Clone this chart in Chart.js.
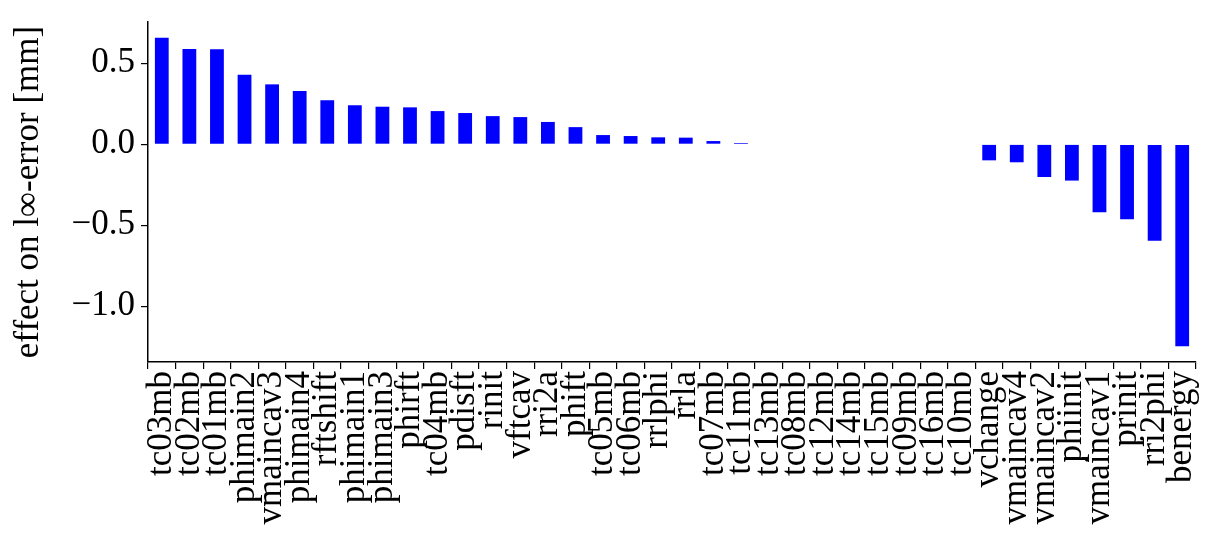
<!DOCTYPE html>
<html>
<head>
<meta charset="utf-8">
<script src="https://cdn.jsdelivr.net/npm/chart.js@4/dist/chart.umd.min.js"></script>
<style>
  html, body { margin: 0; padding: 0; background: #fff; }
  #wrap { width: 1218px; height: 551px; }
</style>
</head>
<body>
<div id="wrap"><canvas id="chart" width="1218" height="551"></canvas></div>
<script>
const labels = ['tc03mb','tc02mb','tc01mb','phimain2','vmaincav3','phimain4','rftshift','phimain1',
  'phimain3','phirft','tc04mb','pdisft','rinit','vftcav','rri2a','phift','tc05mb','tc06mb','rrlphi',
  'rrla','tc07mb','tc11mb','tc13mb','tc08mb','tc12mb','tc14mb','tc15mb','tc09mb','tc16mb','tc10mb',
  'vchange','vmaincav4','vmaincav2','phiinit','vmaincav1','prinit','rri2phi','benergy'];

const effect = [0.658, 0.588, 0.586, 0.430, 0.370, 0.329, 0.272, 0.241,
  0.232, 0.228, 0.205, 0.193, 0.174, 0.168, 0.138, 0.106, 0.057, 0.051, 0.043,
  0.041, 0.020, 0.008, 0, 0, 0, 0, 0, 0, 0, 0,
  -0.099, -0.111, -0.202, -0.224, -0.420, -0.463, -0.595, -1.247];

const yTicks = [-1.0, -0.5, 0.0, 0.5];

const font = "'Liberation Serif', serif";
const fmt = v => (v < 0 ? '\u2212' : '') + Math.abs(v).toFixed(1);

new Chart(document.getElementById('chart'), {
  type: 'bar',
  data: {
    labels,
    datasets: [{
      data: effect,
      backgroundColor: '#0000ff',
      borderWidth: 0,
      barPercentage: 0.5,
      categoryPercentage: 1.0
    }]
  },
  options: {
    responsive: false,
    animation: false,
    layout: { padding: { left: 8, right: 22, top: 22, bottom: 0 } },
    plugins: { legend: { display: false }, tooltip: { enabled: false } },
    scales: {
      x: {
        grid: { display: true, drawOnChartArea: false, drawTicks: true, tickLength: 7, color: '#000', lineWidth: 1.2 },
        border: { display: true, color: '#000', width: 1.5 },
        ticks: { color: '#000', font: { family: font, size: 35 }, minRotation: 90, maxRotation: 90, autoSkip: false, padding: 2 },
        afterFit: s => { s.height = 189; s.paddingLeft = 0; s.paddingRight = 0; }
      },
      y: {
        min: -1.344,
        max: 0.755,
        afterBuildTicks: s => { s.ticks = yTicks.map(v => ({ value: v })); },
        grid: { display: true, drawOnChartArea: false, drawTicks: true, tickLength: 7, color: '#000', lineWidth: 1.2 },
        border: { display: true, color: '#000', width: 1.5 },
        ticks: { color: '#000', font: { family: font, size: 35 }, padding: 6, callback: v => fmt(v) },
        title: { display: true, text: 'effect on l\u221E-error [mm]', color: '#000', font: { family: font, size: 35 }, padding: { top: 0, bottom: 0 } },
        afterFit: s => { s.width = 140; s.paddingTop = 0; s.paddingBottom = 0; }
      }
    }
  }
});
</script>
</body>
</html>
